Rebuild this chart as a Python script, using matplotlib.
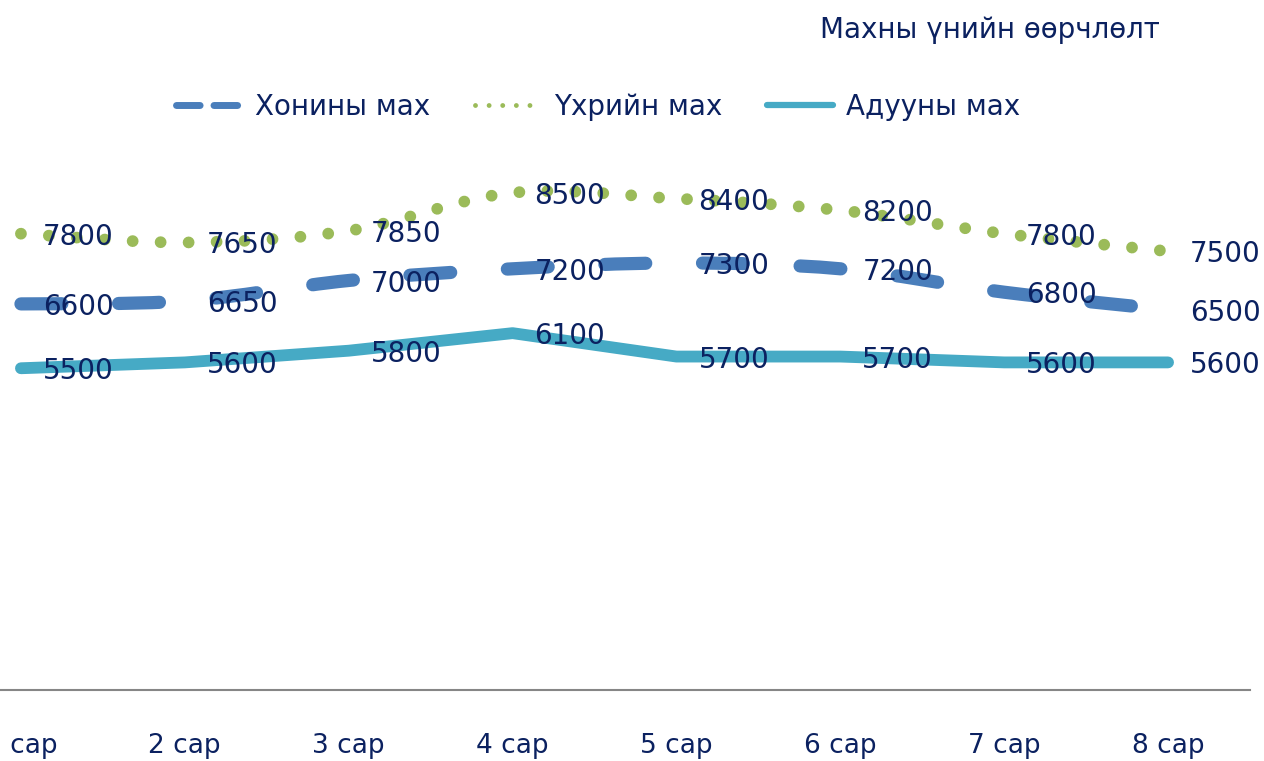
import matplotlib.pyplot as plt
from matplotlib.path import Path
from matplotlib.patches import PathPatch
from matplotlib.lines import Line2D

months = ["1 сар", "2 сар", "3 сар", "4 сар", "5 сар", "6 сар", "7 сар", "8 сар"]
sheep = [6600, 6650, 7000, 7200, 7300, 7200, 6800, 6500]
beef = [7800, 7650, 7850, 8500, 8400, 8200, 7800, 7500]
horse = [5500, 5600, 5800, 6100, 5700, 5700, 5600, 5600]

title = "Махны үнийн өөрчлөлт"
names = ["Хонины мах", "Үхрийн мах", "Адууны мах"]

navy = "#0b2160"
c_sheep = "#4a7ebb"
c_beef = "#9bbb59"
c_horse = "#46aac5"

plt.rcParams["font.family"] = ["DejaVu Sans"]


def smooth_path(xs, ys):
    # Excel-like smoothed line: cubic Bezier through every point
    n = len(xs)
    verts = [(xs[0], ys[0])]
    codes = [Path.MOVETO]
    for i in range(n - 1):
        a = max(i - 1, 0)
        b = min(i + 2, n - 1)
        c1 = (xs[i] + (xs[i + 1] - xs[a]) / 6, ys[i] + (ys[i + 1] - ys[a]) / 6)
        c2 = (xs[i + 1] - (xs[b] - xs[i]) / 6, ys[i + 1] - (ys[b] - ys[i]) / 6)
        verts += [c1, c2, (xs[i + 1], ys[i + 1])]
        codes += [Path.CURVE4] * 3
    return Path(verts, codes)


fig = plt.figure(figsize=(12.64, 7.61), dpi=100)
ax = fig.add_axes([-61 / 1264, 71 / 761, 1311 / 1264, 585 / 761])
ax.set_xlim(-0.5, 7.5)
ax.set_ylim(0, 10000)

x = list(range(len(months)))

sheep_line = PathPatch(smooth_path(x, sheep), fill=False, edgecolor=c_sheep,
                       linewidth=9.5, linestyle=(0, (3.1, 4.3)))
sheep_line.set_capstyle("round")
ax.add_patch(sheep_line)

beef_line = PathPatch(smooth_path(x, beef), fill=False, edgecolor=c_beef,
                      linewidth=8.5, linestyle=(0, (0.001, 2.37)))
beef_line.set_capstyle("round")
ax.add_patch(beef_line)

ax.plot(x, horse, color=c_horse, linewidth=8.5, solid_capstyle="round",
        solid_joinstyle="round")

for series in (beef, sheep, horse):
    for xi, v in zip(x, series):
        ax.annotate(str(v), (xi, v), xytext=(22, -3), textcoords="offset pixels",
                    ha="left", va="center", fontsize=20, color=navy, zorder=10)

for s in ("top", "left", "right"):
    ax.spines[s].set_visible(False)
ax.spines["bottom"].set_color("#868686")
ax.spines["bottom"].set_linewidth(1.5)
ax.set_yticks([])
ax.set_xticks(x)
ax.set_xticklabels(months, fontsize=19, color=navy)
ax.tick_params(axis="x", length=0, pad=31)

fig.text(1160 / 1264, 1 - 30 / 761, title, ha="right", va="center",
         fontsize=20, color=navy)

handles = [
    Line2D([], [], color=c_sheep, linewidth=5, linestyle=(0, (3.4, 2.0)),
           dash_capstyle="round"),
    Line2D([], [], color=c_beef, linewidth=3.5, linestyle=(0, (0.001, 2.8)),
           dash_capstyle="round"),
    Line2D([], [], color=c_horse, linewidth=4.5, solid_capstyle="round"),
]
leg = fig.legend(handles, names, loc="center", bbox_to_anchor=(598 / 1264, 1 - 107 / 761),
                 ncol=3, frameon=False, fontsize=20, handlelength=2.4,
                 handletextpad=0.45, columnspacing=1.6)
for t in leg.get_texts():
    t.set_color(navy)

fig.savefig("out.png", dpi=100)
